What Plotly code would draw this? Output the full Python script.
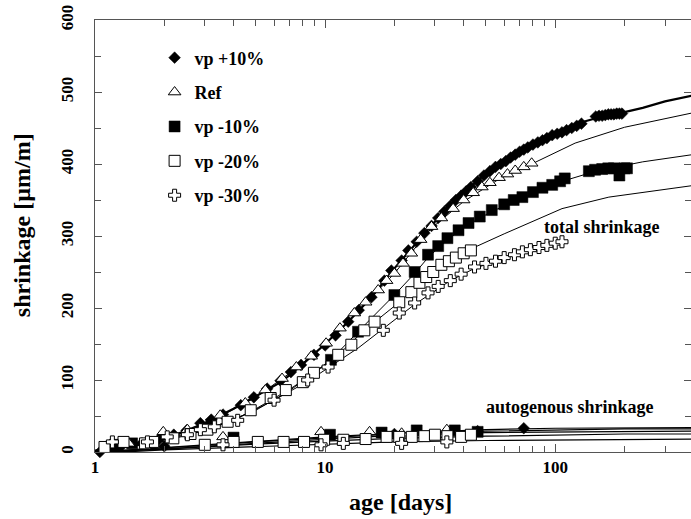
import plotly.graph_objects as go

# ---------------- data ----------------
# total shrinkage, measured points  (age [days], shrinkage [um/m])
p10_t = [1.05, 1.3, 1.6, 1.9, 2.2, 2.5, 2.87, 3.2, 3.6, 4.3, 4.9, 5.6, 6.4, 7.1, 7.86, 8.94, 10, 11.1,
         12.6, 14, 15.9, 18.1, 19.4, 21.5, 23, 25, 27, 29, 31, 33, 35, 37, 39, 41, 43, 46, 49, 52, 55,
         58, 61, 64, 67, 70, 73, 76, 80, 84, 88, 92, 97, 102, 107, 112, 118, 124, 130, 150, 155,
         160, 165, 170, 175, 180, 185, 190, 195]
p10_y = [0, 8, 12, 18, 24, 30, 40, 45, 52, 65, 76, 88, 99, 111, 121, 135, 148, 162,
         181, 197, 215, 238, 252, 266, 280, 292, 304, 314, 325, 334, 342, 350, 356, 362, 368, 376, 384, 390, 396,
         400, 404, 409, 413, 417, 420, 423, 427, 430, 433, 436, 440, 442, 444, 447, 450, 453, 456, 466, 467,
         467, 468, 469, 469, 469, 470, 470, 470]

ref_t = [1.1, 1.4, 1.98, 2.52, 3.5, 4.5, 5.5, 6.5, 7.5, 8.7, 10.1, 11.6, 13.4, 15, 17, 18.5, 20, 21.8,
         23.7, 26, 29, 32, 36, 40, 44, 48, 52, 57, 62, 67, 73, 79]
ref_y = [5, 12, 28, 31, 51, 68, 86, 102, 118, 133, 151, 172, 193, 208, 225, 238, 248, 262,
         276, 295, 313, 325, 338, 350, 360, 368, 374, 381, 386, 391, 396, 401]

m10_t = [1.2, 3.2, 10.6, 13.9, 20, 24.5, 28, 31, 34, 38, 42, 47, 53, 60, 66, 72, 80, 88, 97, 105,
         110, 140, 149, 160, 170, 180, 190, 200, 205]
m10_y = [8, 38, 128, 167, 218, 250, 274, 286, 297, 308, 318, 327, 336, 344, 350, 354, 361, 367, 371, 376,
         380, 390, 392, 393, 394, 394, 384, 394, 394]

m20_t = [1.1, 1.33, 1.65, 1.79, 2.19, 2.6, 3.08, 3.77, 4.75, 5.8, 6.75, 8.0, 8.94, 11.4, 13, 14.8, 16.4,
         21, 23.7, 25.7, 27.5, 29.5, 32, 34.5, 37, 40, 43]
m20_y = [7, 14, 12, 14, 19, 25, 31, 42, 58, 75, 86, 97, 110, 135, 149, 169, 181,
         208, 222, 235, 243, 250, 260, 265, 270, 276, 280]

m30_t = [1.19, 1.69, 2.06, 2.52, 2.87, 3.3, 4.17, 6.0, 8.4, 10.3, 17.9, 21, 24.5, 28, 31, 35, 39, 44.6,
         50, 55, 60, 66.5, 72, 78, 85, 92, 100, 107]
m30_y = [14, 14, 21, 24, 31, 35, 44, 72, 100, 118, 169, 193, 207, 221, 230, 238, 247, 257,
         262, 265, 270, 274, 278, 281, 284, 287, 290, 292]

# total shrinkage, model curves
fit_p10_t = [1, 1.5, 2, 3, 4, 5, 6.5, 8, 10, 12.6, 15.9, 20, 27, 34, 48, 66, 88, 107, 127, 160, 200, 240, 300, 395]
fit_p10_y = [2, 9, 18, 40, 60, 78, 98, 122, 150, 181, 215, 255, 303, 340, 382, 412, 433, 444, 457, 466, 472, 478, 487, 495]
fit_ref_t = [1, 2, 3, 5, 7.5, 10, 13.4, 17, 20, 23, 29, 40, 57, 79, 107, 122, 200, 395]
fit_ref_y = [2, 18, 38, 76, 116, 150, 190, 224, 248, 272, 311, 348, 379, 400, 421, 429, 451, 471]
fit_m10_t = [1, 2, 3, 5, 7, 10.6, 13.9, 20, 24.5, 28, 34, 42, 53, 72, 97, 110, 150, 240, 395]
fit_m10_y = [2, 15, 30, 58, 85, 128, 167, 218, 248, 270, 295, 316, 334, 353, 369, 377, 390, 403, 413]
fit_m20_t = [1, 1.5, 2, 3, 4, 5, 7, 9, 11.4, 14.8, 21, 27.5, 32, 43, 60, 82, 107, 171, 395]
fit_m20_y = [2, 10, 17, 30, 44, 60, 87, 110, 135, 169, 208, 243, 258, 282, 303, 322, 338, 354, 370]
fit_m30_t = [1, 1.5, 2, 3, 4, 6, 8.4, 10.3, 14, 18, 24.5, 35, 44.6, 66.5, 107]
fit_m30_y = [2, 10, 18, 32, 44, 72, 98, 117, 145, 172, 205, 238, 255, 274, 292]

# autogenous shrinkage, measured points
a_p10_t = [2.0, 4.0, 10, 20, 46, 73]
a_p10_y = [8, 17, 21, 25, 29, 33]
a_ref_t = [3.6, 9.6, 15.6, 21.5, 33.8]
a_ref_y = [21, 28, 28, 26, 31]
a_m10_t = [1.22, 1.45, 4.0, 10.5, 17.6, 25, 36.6, 46]
a_m10_y = [10, 12, 20, 24, 27, 30, 30, 28]
a_m20_t = [3.0, 4.0, 5.1, 6.6, 8.1, 9.9, 12, 15, 18.5, 21, 23.8, 27, 30, 34, 39, 43]
a_m20_y = [10, 14, 14, 14, 14, 17, 17, 18, 21, 21, 21, 22, 24, 22, 21, 24]
a_m30_t = [3.6, 9.6, 12, 21.5, 33.8]
a_m30_y = [10, 10, 12, 12, 14]

# autogenous shrinkage, model curves
afit_t = [1, 1.5, 2, 3, 5, 10, 20, 50, 100, 200, 400]
afit_p10 = [0, 3, 6, 10, 15, 21, 26, 31, 33, 34, 34]
afit_ref = [0, 3, 5, 9, 14, 20, 25, 29, 31, 32, 32]
afit_m10 = [0, 2, 4, 8, 12, 18, 23, 27, 28, 29, 29]
afit_m20 = [0, 2, 4, 7, 11, 15, 19, 22, 24, 25, 25]
afit_m30 = [0, 1, 3, 5, 8, 11, 14, 16, 17, 18, 18]

names = ["vp +10%", "Ref", "vp -10%", "vp -20%", "vp -30%"]
x_ticks = [1, 10, 100]
y_ticks = [0, 100, 200, 300, 400, 500, 600]

# ---------------- figure ----------------
FONT = "Liberation Serif"
fig = go.Figure()

line_specs = [
    (fit_p10_t, fit_p10_y, 2.2), (fit_ref_t, fit_ref_y, 1.0), (fit_m10_t, fit_m10_y, 1.0),
    (fit_m20_t, fit_m20_y, 1.0), (fit_m30_t, fit_m30_y, 1.0),
]
for tt, yy, w in line_specs:
    fig.add_trace(go.Scatter(x=tt, y=yy, mode="lines", line=dict(color="black", width=w),
                             showlegend=False, hoverinfo="skip"))
for yy in [afit_p10, afit_ref, afit_m10, afit_m20, afit_m30]:
    fig.add_trace(go.Scatter(x=afit_t, y=yy, mode="lines", line=dict(color="black", width=1.2),
                             showlegend=False, hoverinfo="skip"))

styles = [
    dict(symbol="diamond", size=9, color="black", line=dict(color="black", width=0.5)),
    dict(symbol="triangle-up", size=11, color="white", line=dict(color="black", width=1)),
    dict(symbol="square", size=11, color="black", line=dict(color="black", width=0.5)),
    dict(symbol="square", size=11, color="white", line=dict(color="black", width=1)),
    dict(symbol="cross", size=10, color="white", line=dict(color="black", width=1)),
]
auto_data = [(a_p10_t, a_p10_y), (a_ref_t, a_ref_y), (a_m10_t, a_m10_y), (a_m20_t, a_m20_y), (a_m30_t, a_m30_y)]
tot_data = [(p10_t, p10_y), (ref_t, ref_y), (m10_t, m10_y), (m20_t, m20_y), (m30_t, m30_y)]

for i in range(5):
    at, ay = auto_data[i]
    fig.add_trace(go.Scatter(x=at, y=ay, mode="markers", marker=styles[i], showlegend=False,
                             legendgroup=names[i], cliponaxis=False))
for i in range(5):
    tt, yy = tot_data[i]
    fig.add_trace(go.Scatter(x=tt, y=yy, mode="markers", marker=styles[i], name=names[i],
                             legendgroup=names[i], cliponaxis=False))

axis_common = dict(showline=True, linecolor="#555", linewidth=1, mirror="allticks",
                   ticks="inside", tickcolor="#555", showgrid=False, zeroline=False,
                   automargin=False, ticklabeloverflow="allow",
                   tickfont=dict(family=FONT, size=17, color="black", weight="bold"))

fig.update_xaxes(type="log", range=[0, 2.59], tickvals=x_ticks, ticktext=[str(v) for v in x_ticks],
                 ticklen=8,
                 minor=dict(ticks="inside", ticklen=6, tickcolor="#555", showgrid=False,
                            tickvals=[2, 3, 4, 5, 6, 7, 8, 9, 20, 30, 40, 50, 60, 70, 80, 90, 200, 300]),
                 **axis_common)
fig.update_yaxes(range=[0, 600], tickvals=y_ticks, tickangle=-90, ticklen=7, ticklabelstandoff=14,
                 minor=dict(ticks="inside", ticklen=6, tickcolor="#555", dtick=50, showgrid=False),
                 **axis_common)

title_font = dict(family=FONT, size=24, color="black", weight="bold")
fig.add_annotation(xref="paper", yref="paper", x=0.513, y=-0.116, text="age [days]",
                   showarrow=False, font=title_font, xanchor="center", yanchor="middle")
fig.add_annotation(xref="paper", yref="paper", x=-0.1225, y=0.525, text="shrinkage [µm/m]",
                   textangle=-90, showarrow=False, font=title_font, xanchor="center", yanchor="middle")

fig.add_annotation(x=2.205, y=312, text="total shrinkage", showarrow=False,
                   font=dict(family=FONT, size=18, color="black", weight="bold"))
fig.add_annotation(x=2.066, y=62.5, text="autogenous shrinkage", showarrow=False,
                   font=dict(family=FONT, size=18, color="black", weight="bold"))

fig.update_layout(
    width=691, height=519,
    margin=dict(l=95, r=0, t=20, b=67, autoexpand=False),
    plot_bgcolor="white", paper_bgcolor="white",
    font=dict(family=FONT, color="black"),
    legend=dict(x=0.1, y=0.955, xanchor="left", yanchor="top", bgcolor="rgba(0,0,0,0)",
                traceorder="grouped", tracegroupgap=8,
                font=dict(family=FONT, size=18, color="black", weight="bold")),
)

# remove the browser's default 8px page margin so the figure fills the window exactly
fig.write_html("out.html", config={"displayModeBar": False},
               post_script="document.body.style.margin='0px';")
